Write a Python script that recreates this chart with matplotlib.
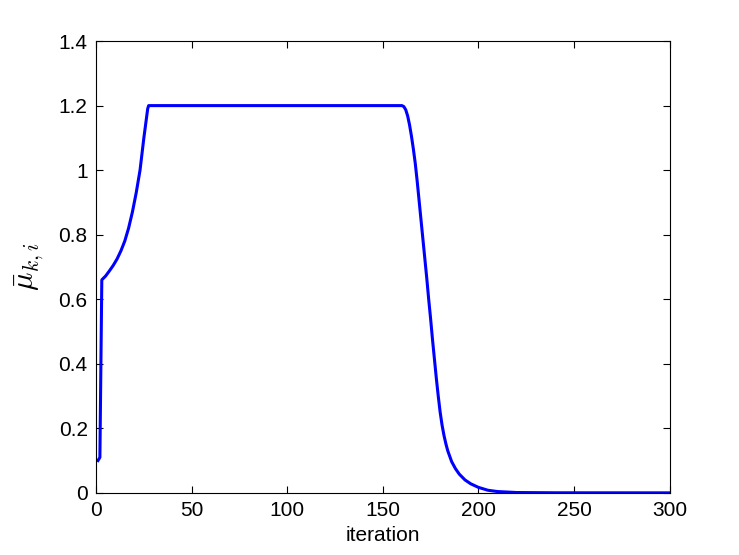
import matplotlib
matplotlib.use("Agg")
import matplotlib.pyplot as plt

plt.rcParams["font.family"] = ["Liberation Sans", "DejaVu Sans"]
plt.rcParams["mathtext.fontset"] = "cm"

# values (iteration, mean value)
iteration = [1, 2, 3, 5, 7, 9, 11, 13, 15, 17, 19, 21, 23, 25, 27, 27.5,
             160, 161, 162, 163, 164, 165, 166, 167, 168, 169, 170, 171, 172,
             173, 174, 175, 176, 177, 178, 179, 180, 181, 182, 183, 184, 186,
             188, 190, 193, 196, 200, 205, 210, 220, 240, 300]
mu_bar = [0.10, 0.11, 0.66, 0.672, 0.688, 0.705, 0.725, 0.75, 0.78, 0.82,
          0.87, 0.93, 1.00, 1.10, 1.19, 1.20,
          1.20, 1.197, 1.187, 1.168, 1.14, 1.105, 1.065, 1.02, 0.965, 0.905,
          0.845, 0.785, 0.725, 0.665, 0.60, 0.54, 0.475, 0.415, 0.355, 0.30,
          0.25, 0.21, 0.178, 0.152, 0.13, 0.097, 0.075, 0.058, 0.04, 0.028,
          0.017, 0.008, 0.004, 0.001, 0.0002, 0.0]

xticks = [0, 50, 100, 150, 200, 250, 300]
yticks = [0, 0.2, 0.4, 0.6, 0.8, 1, 1.2, 1.4]
ytick_labels = ["0", "0.2", "0.4", "0.6", "0.8", "1", "1.2", "1.4"]

fig = plt.figure(figsize=(7.39, 5.55), dpi=100)
ax = fig.add_axes([0.130, 0.112, 0.776, 0.814])

ax.plot(iteration, mu_bar, color="#0000ff", linewidth=2.2)

ax.set_xlim(0, 300)
ax.set_ylim(0, 1.4)
ax.set_xticks(xticks)
ax.set_yticks(yticks)
ax.set_yticklabels(ytick_labels)
ax.tick_params(direction="in", length=5, width=0.8, labelsize=15,
               top=True, right=True, pad=6)
for spine in ax.spines.values():
    spine.set_linewidth(0.8)

ax.set_xlabel("iteration", fontsize=15, labelpad=4)
ax.set_ylabel(r"$\bar{\mu}_{k,i}$", fontsize=22, labelpad=10)

fig.savefig("out.png", dpi=100)
